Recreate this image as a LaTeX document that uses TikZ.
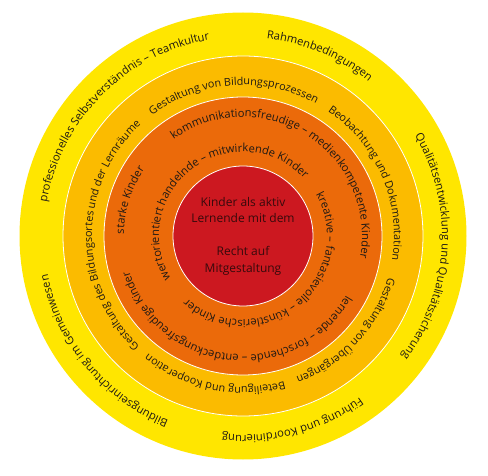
\documentclass[tikz,border=0pt]{standalone}
\usepackage{fontspec}
\setmainfont{Open Sans}
\usetikzlibrary{decorations.text}
\definecolor{cyellow}{RGB}{255,230,0}
\definecolor{clight}{RGB}{251,187,0}
\definecolor{corange}{RGB}{235,106,10}
\definecolor{cred}{RGB}{204,24,32}
\definecolor{ctext}{RGB}{30,25,20}
\definecolor{cctext}{RGB}{55,10,12}
\newcommand\ringfont[1]{\fontsize{#1}{13}\selectfont\color{ctext}}
\newcommand\ringtext[4][11.2]{\path[decorate,decoration={text along path,text align=center,text={|\ringfont{#1}|#4}}] (C) ++(#3+150:#2) arc[start angle=#3+150,end angle=#3-150,radius=#2];}
\tikzset{ring/.style={draw=white,line width=0.8pt}}
\begin{document}
\begin{tikzpicture}[x=1pt,y=1pt]
\useasboundingbox (0,0) rectangle (488,475);
\coordinate (C) at (243,239);
\fill[cyellow] (C) circle[radius=223.5];
\filldraw[ring,fill=clight] (C) circle[radius=180];
\filldraw[ring,fill=corange] (C) circle[radius=139];
\filldraw[ring,fill=cred] (C) circle[radius=70];
% outer ring
\ringtext{199}{135}{professionelles Selbstverständnis – Teamkultur}
\ringtext{199}{67}{Rahmenbedingungen}
\ringtext{199}{-3.4}{Qualitätsentwicklung und Qualitätssicherung}
\ringtext{199}{-75}{Führung und Koordinierung}
\ringtext{199}{-140.4}{Bildungseinrichtung im Gemeinwesen}
% middle ring
\ringtext[10.8]{151}{94}{Gestaltung von Bildungsprozessen}
\ringtext[10.8]{151}{23.3}{Beobachtung und Dokumentation}
\ringtext[10.8]{151}{-42.7}{Gestaltung von Übergängen}
\ringtext[10.8]{151}{-101.5}{Beteiligung und Kooperation}
\ringtext[10.8]{151}{179.6}{Gestaltung des Bildungsortes und der Lernräume}
% orange ring outer row
\ringtext{119}{57.5}{kommunikationsfreudige – medienkompetente Kinder}
\ringtext{119}{-96.5}{lernende – forschende – entdeckungsfreudige Kinder}
\ringtext{119}{162.4}{starke Kinder}
% orange ring inner row
\ringtext{84}{126.8}{wertorientiert handelnde – mitwirkende Kinder}
\ringtext{84}{-51}{kreative – fantasievolle – künstlerische Kinder}
% centre
\node[align=center,text=cctext,font=\fontsize{12}{16.5}\selectfont] (core) at (C) {Kinder als aktiv\\Lernende mit dem\\[16.5pt]Recht auf\\Mitgestaltung};
\end{tikzpicture}
\end{document}
